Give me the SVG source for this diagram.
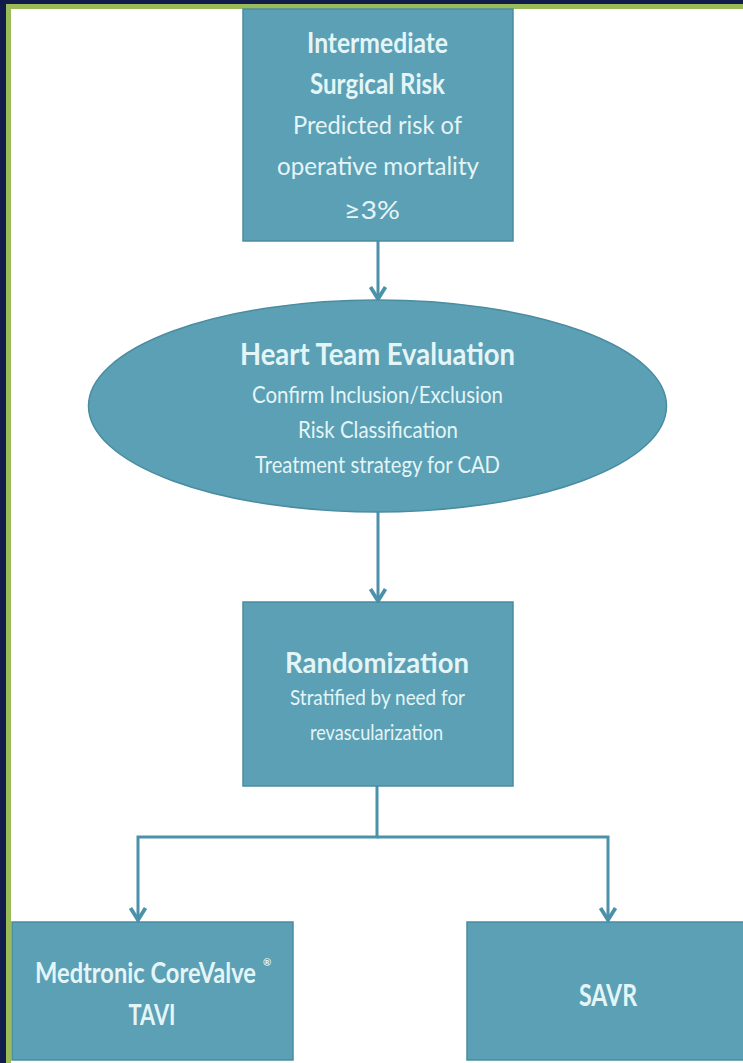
<svg xmlns="http://www.w3.org/2000/svg" width="743" height="1063" viewBox="0 0 743 1063">
  <style>
    .node { fill: #5ba0b4; stroke: #4a8ca1; stroke-width: 1.5; }
    .title { font-family: Lato, "Liberation Sans", sans-serif; font-weight: bold; fill: #e4f5f8; text-anchor: middle; }
    .sub { font-family: Lato, "Liberation Sans", sans-serif; fill: #e4f5f8; text-anchor: middle; }
    .link { fill: none; stroke: #4b91a9; stroke-width: 3; }
  </style>
  <defs>
    <marker id="arrow" viewBox="-15 -10 17 20" refX="0" refY="0" markerWidth="17" markerHeight="20" orient="auto" markerUnits="userSpaceOnUse">
      <path d="M-12,-7.5 L0,0 L-12,7.5" fill="none" stroke="#4b91a9" stroke-width="3.8" stroke-linejoin="miter"/>
    </marker>
  </defs>

  <!-- frame -->
  <rect x="0" y="0" width="743" height="1063" fill="#111c4a"/>
  <rect x="6" y="4" width="737" height="1059" fill="#9bbb59"/>
  <rect x="11" y="9" width="732" height="1054" fill="#ffffff"/>

  <!-- connectors -->
  <g id="connectors">
    <path class="link" d="M378,241 V299" marker-end="url(#arrow)"/>
    <path class="link" d="M378,512 V601" marker-end="url(#arrow)"/>
    <path class="link" d="M377,786 V837 H138 V920" marker-end="url(#arrow)"/>
    <path class="link" d="M377,837 H608 V920" marker-end="url(#arrow)"/>
  </g>

  <!-- Intermediate surgical risk -->
  <g id="node-risk">
    <rect class="node" x="243" y="9" width="270" height="232"/>
    <text class="title" x="377.5" y="53" font-size="28" textLength="141" lengthAdjust="spacingAndGlyphs">Intermediate</text>
    <text class="title" x="377.5" y="94" font-size="28" textLength="135" lengthAdjust="spacingAndGlyphs">Surgical Risk</text>
    <text class="sub" x="377.5" y="134" font-size="25" textLength="169" lengthAdjust="spacingAndGlyphs">Predicted risk of</text>
    <text class="sub" x="378" y="175" font-size="25" textLength="202" lengthAdjust="spacingAndGlyphs">operative mortality</text>
    <text class="sub" x="372" y="219" font-size="25" textLength="56" lengthAdjust="spacingAndGlyphs">≥3%</text>
  </g>

  <!-- Heart team evaluation -->
  <g id="node-heart-team">
    <ellipse class="node" cx="377.5" cy="406" rx="289" ry="106"/>
    <text class="title" x="377.5" y="365" font-size="31" textLength="275" lengthAdjust="spacingAndGlyphs">Heart Team Evaluation</text>
    <text class="sub" x="377.5" y="403" font-size="23" textLength="251" lengthAdjust="spacingAndGlyphs">Confirm Inclusion/Exclusion</text>
    <text class="sub" x="378" y="438" font-size="23" textLength="160" lengthAdjust="spacingAndGlyphs">Risk Classification</text>
    <text class="sub" x="377.5" y="473" font-size="23" textLength="245" lengthAdjust="spacingAndGlyphs">Treatment strategy for CAD</text>
  </g>

  <!-- Randomization -->
  <g id="node-randomization">
    <rect class="node" x="243" y="602" width="270" height="184"/>
    <text class="title" x="377" y="673" font-size="29" textLength="184" lengthAdjust="spacingAndGlyphs">Randomization</text>
    <text class="sub" x="377.5" y="705" font-size="22" textLength="175" lengthAdjust="spacingAndGlyphs">Stratified by need for</text>
    <text class="sub" x="376.5" y="740" font-size="22" textLength="133" lengthAdjust="spacingAndGlyphs">revascularization</text>
  </g>

  <!-- TAVI arm -->
  <g id="node-tavi">
    <rect class="node" x="12" y="922" width="281" height="138"/>
    <!-- condensed horizontally so the line fits the box -->
    <text class="title" transform="translate(35,983) scale(0.85,1)" x="0" y="0" font-size="28" style="text-anchor:start" textLength="260" lengthAdjust="spacingAndGlyphs">Medtronic CoreValve</text>
    <text class="title" x="263" y="966" font-size="10" style="text-anchor:start">®</text>
    <text class="title" x="152" y="1025" font-size="28" textLength="47" lengthAdjust="spacingAndGlyphs">TAVI</text>
  </g>

  <!-- SAVR arm -->
  <g id="node-savr">
    <rect class="node" x="467" y="922" width="280" height="138"/>
    <text class="title" x="608" y="1006" font-size="30" textLength="58" lengthAdjust="spacingAndGlyphs">SAVR</text>
  </g>
</svg>
